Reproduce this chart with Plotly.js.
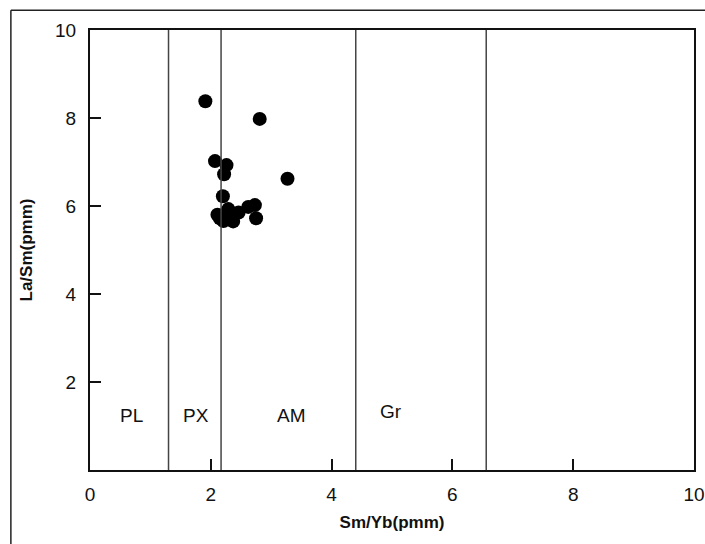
<!DOCTYPE html>
<html>
<head>
<meta charset="utf-8">
<script src="https://cdn.plot.ly/plotly-3.0.1.min.js"></script>
<style>
html,body{margin:0;padding:0;background:#fff;}
#chart{width:705px;height:544px;}
</style>
</head>
<body>
<div id="chart"></div>
<script>
// Data
const smYb = [1.91, 2.81, 2.07, 2.26, 2.22, 3.27, 2.20, 2.11, 2.29, 2.46, 2.62, 2.73, 2.75, 2.21, 2.37, 2.26, 2.15];
const laSm = [8.38, 7.98, 7.02, 6.93, 6.72, 6.62, 6.22, 5.80, 5.93, 5.85, 5.98, 6.02, 5.72, 5.66, 5.65, 5.84, 5.72];
const boundaries = [1.3, 2.17, 4.4, 6.56];
const fieldLabels = ["PL", "PX", "AM", "Gr"];
const fieldLabelX = [0.68, 1.75, 3.34, 4.99];
const fieldLabelY = [1.23, 1.23, 1.23, 1.33];
const xTicks = [0, 2, 4, 6, 8, 10];
const yTicks = [2, 4, 6, 8, 10];

const font = "Liberation Sans, Arial, sans-serif";

const shapes = boundaries.map(b => ({
  type: "line", xref: "x", yref: "paper", x0: b, x1: b, y0: 0, y1: 1,
  line: {color: "#444", width: 1.5}
}));
// outer frame of the figure
shapes.push({type: "line", xref: "paper", yref: "paper", x0: -0.131, x1: 1.05, y0: 1.045, y1: 1.045, line: {color: "#222", width: 1.5}});
shapes.push({type: "line", xref: "paper", yref: "paper", x0: -0.131, x1: -0.131, y0: 1.045, y1: -0.25, line: {color: "#222", width: 1.5}});

const annotations = fieldLabels.map((t, i) => ({
  x: fieldLabelX[i], y: fieldLabelY[i], xref: "x", yref: "y", text: t,
  showarrow: false, font: {family: font, size: 19, color: "#111"}
}));

const trace = {
  x: smYb, y: laSm, mode: "markers", type: "scatter",
  marker: {color: "#000", size: 14},
  hoverinfo: "x+y"
};

const layout = {
  width: 705, height: 544,
  margin: {l: 90, r: 11, t: 30, b: 74},
  paper_bgcolor: "#fff", plot_bgcolor: "#fff",
  showlegend: false,
  xaxis: {
    range: [0, 10], tickvals: xTicks, ticktext: xTicks.map(String),
    ticks: "inside", ticklen: 11, tickwidth: 2, tickcolor: "#111",
    showline: true, linecolor: "#111", linewidth: 2, mirror: true,
    showgrid: false, zeroline: false,
    tickfont: {family: font, size: 19, color: "#111"},
    ticklabelstandoff: 6,
    title: {text: "<b>Sm/Yb(pmm)</b>", font: {family: font, size: 17, color: "#111"}, standoff: 12}
  },
  yaxis: {
    range: [0, 10], tickvals: yTicks, ticktext: yTicks.map(String),
    ticks: "inside", ticklen: 11, tickwidth: 2, tickcolor: "#111",
    showline: true, linecolor: "#111", linewidth: 2, mirror: true,
    showgrid: false, zeroline: false,
    tickfont: {family: font, size: 19, color: "#111"},
    ticklabelstandoff: 8,
    title: {text: "<b>La/Sm(pmm)</b>", font: {family: font, size: 17, color: "#111"}, standoff: 18}
  },
  shapes: shapes,
  annotations: annotations
};

Plotly.newPlot("chart", [trace], layout, {displayModeBar: false, staticPlot: true});
</script>
</body>
</html>
